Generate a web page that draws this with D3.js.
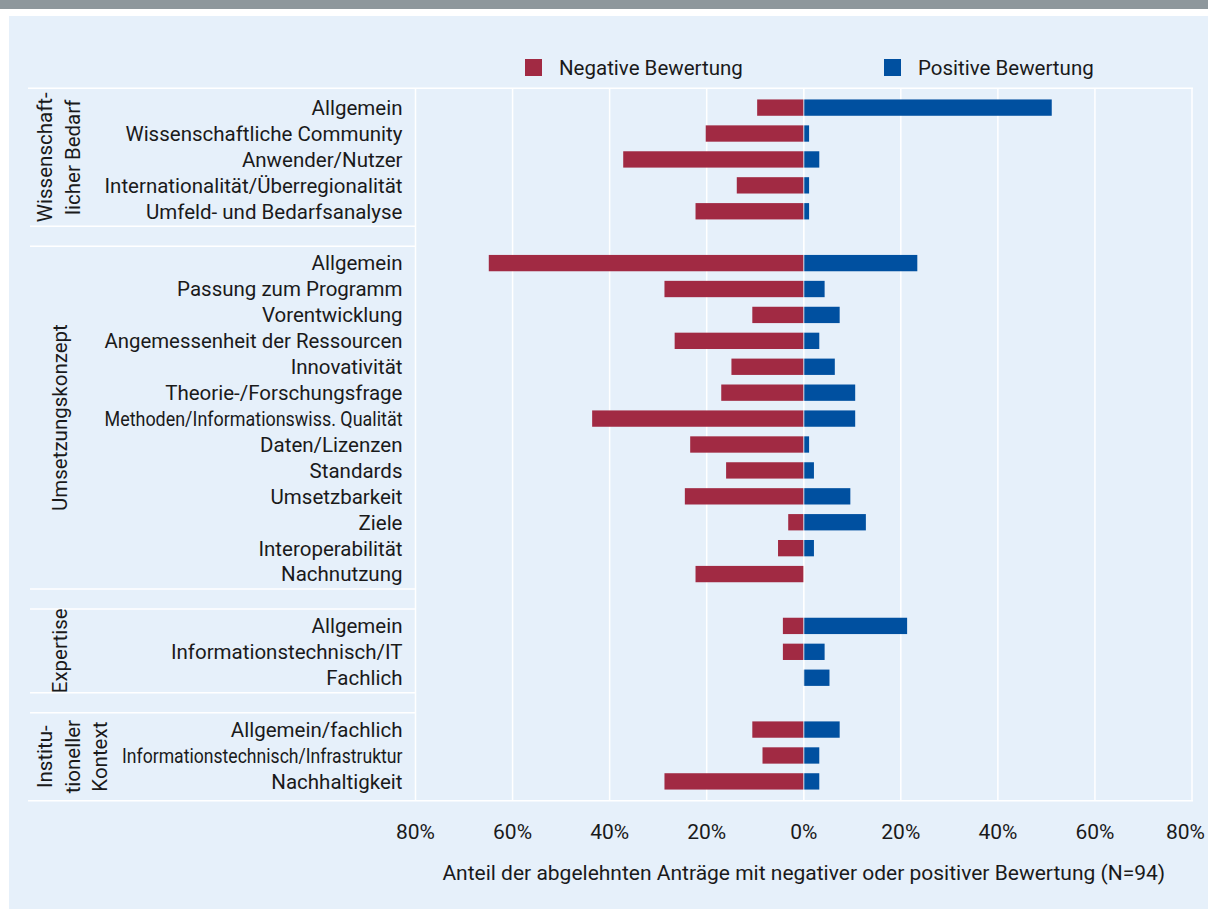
<!DOCTYPE html>
<html>
<head>
<meta charset="utf-8">
<script src="https://cdn.jsdelivr.net/npm/d3@7"></script>
<style>
  body { margin: 0; background: #fff; }
  svg text { font-family: Roboto, "Open Sans", sans-serif; fill: #1a1a1a; }
</style>
</head>
<body>
<div id="chart"></div>
<script>
// groups in display order, with their row labels
var groupNames = [
  ["Wissenschaft-", "licher Bedarf"],
  ["Umsetzungskonzept"],
  ["Expertise"],
  ["Institu-", "tioneller", "Kontext"]
];
var categories = [
  ["Allgemein", "Wissenschaftliche Community", "Anwender/Nutzer",
   "Internationalität/Überregionalität", "Umfeld- und Bedarfsanalyse"],
  ["Allgemein", "Passung zum Programm", "Vorentwicklung",
   "Angemessenheit der Ressourcen", "Innovativität", "Theorie-/Forschungsfrage",
   "Methoden/Informationswiss. Qualität", "Daten/Lizenzen", "Standards",
   "Umsetzbarkeit", "Ziele", "Interoperabilität", "Nachnutzung"],
  ["Allgemein", "Informationstechnisch/IT", "Fachlich"],
  ["Allgemein/fachlich", "Informationstechnisch/Infrastruktur", "Nachhaltigkeit"]
];
// share of rejected proposals in % (N=94)
var negativeValues = [
  [9.6, 20.2, 37.2, 13.8, 22.3],
  [64.9, 28.7, 10.6, 26.6, 14.9, 17.0, 43.6, 23.4, 16.0, 24.5, 3.2, 5.3, 22.3],
  [4.3, 4.3, 0],
  [10.6, 8.5, 28.7]
];
var positiveValues = [
  [51.1, 1.1, 3.2, 1.1, 1.1],
  [23.4, 4.3, 7.4, 3.2, 6.4, 10.6, 10.6, 1.1, 2.1, 9.6, 12.8, 2.1, 0],
  [21.3, 4.3, 5.3],
  [7.4, 3.2, 3.2]
];
var tickValues = [-80, -60, -40, -20, 0, 20, 40, 60, 80];
var legendLabels = ["Negative Bewertung", "Positive Bewertung"];
var axisTitle = "Anteil der abgelehnten Anträge mit negativer oder positiver Bewertung (N=94)";

var W = 1208, H = 909;
var colNeg = "#a12a43", colPos = "#0050a0";
var panelCol = "#e6f0fa";

// flatten into slots, one empty slot between groups
var slots = [];
var rows = [];
categories.forEach(function(cats, g) {
  if (g > 0) slots.push("gap" + g);
  cats.forEach(function(c, i) {
    var key = g + "-" + i;
    slots.push(key);
    rows.push({key: key, group: g, label: c,
               neg: negativeValues[g][i], pos: positiveValues[g][i]});
  });
});

var plotTop = 88.3, plotBottom = 800.7, plotLeft = 415.5, plotRight = 1192;
var labelLeft = 28;
var labelEnd = plotLeft - 13;

var x = d3.scaleLinear().domain([-80, 80]).range([plotLeft, plotRight]);
var y = d3.scaleBand().domain(slots).range([plotTop, plotBottom])
  .paddingInner(0.37).paddingOuter(0.43);
var mid = function(k) { return y(k) + y.bandwidth() / 2; };

var svg = d3.select("#chart").append("svg")
  .attr("width", W).attr("height", H);

svg.append("rect").attr("width", W).attr("height", H).attr("fill", "#fff");
svg.append("rect").attr("width", W).attr("height", 9).attr("fill", "#8e979c");
svg.append("rect").attr("x", 9).attr("y", 16).attr("width", W - 9).attr("height", H - 16)
  .attr("fill", panelCol);

// grid lines
svg.append("g").selectAll("line").data(tickValues).join("line")
  .attr("x1", d => x(d)).attr("x2", d => x(d))
  .attr("y1", plotTop).attr("y2", plotBottom)
  .attr("stroke", "#fff").attr("stroke-width", 1.5);

// frame top / bottom
[plotTop, plotBottom].forEach(function(yy) {
  svg.append("line").attr("x1", labelLeft).attr("x2", plotRight + 1)
    .attr("y1", yy).attr("y2", yy)
    .attr("stroke", "#fff").attr("stroke-width", 1.5);
});

// group separators in label area
var groupBounds = categories.map(function(cats, g) {
  var top = g === 0 ? plotTop : mid("gap" + g) + 9;
  var bottom = g === categories.length - 1 ? plotBottom : mid("gap" + (g + 1)) - 11;
  return {g: g, top: top, bottom: bottom};
});
groupBounds.forEach(function(b) {
  if (b.g > 0) {
    svg.append("line").attr("x1", labelLeft + 2).attr("x2", plotLeft)
      .attr("y1", b.top).attr("y2", b.top).attr("stroke", "#fff").attr("stroke-width", 1.5);
  }
  if (b.g < categories.length - 1) {
    svg.append("line").attr("x1", labelLeft + 2).attr("x2", plotLeft)
      .attr("y1", b.bottom).attr("y2", b.bottom).attr("stroke", "#fff").attr("stroke-width", 1.5);
  }
});

// bars
var bars = svg.append("g");
bars.selectAll("rect.neg").data(rows).join("rect").attr("class", "neg")
  .attr("x", d => x(-d.neg)).attr("width", d => x(0) - x(-d.neg))
  .attr("y", d => y(d.key)).attr("height", y.bandwidth())
  .attr("fill", colNeg);
bars.selectAll("rect.pos").data(rows).join("rect").attr("class", "pos")
  .attr("x", x(0)).attr("width", d => x(d.pos) - x(0))
  .attr("y", d => y(d.key)).attr("height", y.bandwidth())
  .attr("fill", colPos);

// zero line on top of bars
svg.append("line").attr("x1", x(0)).attr("x2", x(0))
  .attr("y1", plotTop).attr("y2", plotBottom)
  .attr("stroke", "#fff").attr("stroke-opacity", 0.5).attr("stroke-width", 1.5);

// group labels, rotated; remember how far right each block reaches
var blockRight = [];
groupBounds.forEach(function(b) {
  var lines = groupNames[b.g];
  var cy = (b.top + b.bottom) / 2;
  var x0 = lines.length === 1 ? 67 : 52;
  lines.forEach(function(t, i) {
    var bx = x0 + i * 27.5;
    svg.append("text")
      .attr("transform", "translate(" + bx + "," + cy + ") rotate(-90)")
      .attr("text-anchor", "middle")
      .style("font-size", "20.5px")
      .text(t);
  });
  blockRight[b.g] = x0 + (lines.length - 1) * 27.5;
});

// row labels, squeezed where they would run into the group label
svg.append("g").selectAll("text").data(rows).join("text")
  .attr("x", labelEnd).attr("y", d => mid(d.key))
  .attr("dy", "0.36em").attr("text-anchor", "end")
  .style("font-size", "20.5px")
  .text(d => d.label)
  .each(function(d) {
    var maxW = Math.min(298, labelEnd - blockRight[d.group] - 15);
    var w = this.getComputedTextLength();
    if (w > maxW) {
      d3.select(this).attr("textLength", maxW).attr("lengthAdjust", "spacingAndGlyphs");
    }
  });

// x axis tick labels (last one kept inside the picture)
svg.append("g").selectAll("text").data(tickValues).join("text")
  .attr("x", (d, i) => i === tickValues.length - 1 ? W - 3 : x(d)).attr("y", 838.5)
  .attr("text-anchor", (d, i) => i === tickValues.length - 1 ? "end" : "middle")
  .style("font-size", "21px")
  .text(d => Math.abs(d) + "%");

svg.append("text").attr("x", x(0)).attr("y", 880)
  .attr("text-anchor", "middle").style("font-size", "21px")
  .text(axisTitle);

// legend
var legendX = [525, 884];
legendLabels.forEach(function(l, i) {
  svg.append("rect").attr("x", legendX[i]).attr("y", 59)
    .attr("width", 17).attr("height", 17)
    .attr("fill", i === 0 ? colNeg : colPos);
  svg.append("text").attr("x", legendX[i] + 34).attr("y", 74.7)
    .style("font-size", "20.5px").text(l);
});
</script>
</body>
</html>
